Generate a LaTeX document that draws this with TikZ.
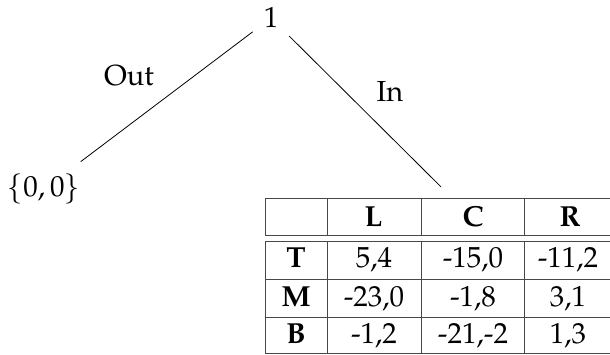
\documentclass[tikz,border=0pt]{standalone}
\usepackage[T1]{fontenc}
\usepackage{mathpazo}
\usetikzlibrary{calc}
\begin{document}
\begin{tikzpicture}[x=1pt,y=-1pt,
  every node/.style={inner sep=0pt,font=\fontsize{29}{34}\selectfont},
  lbl/.style={anchor=base},
  cell/.style={anchor=base},
  head/.style={anchor=base,font=\fontsize{29}{34}\selectfont\bfseries},
  branch/.style={line width=0.8pt,black},
  rule/.style={line width=1pt,black!72}]
\useasboundingbox (0,0) rectangle (610,355);

% tree nodes
\node[lbl] (root) at (271,28) {1};
\node[lbl] (out)  at (44,197) {$\{0,0\}$};
\node[inner sep=0pt,minimum width=376pt,minimum height=155pt] (tab) at (453,276.5) {};

% branches
\draw[branch] ($(root)!23pt!(out)$) -- ($(out)!46pt!(root)$);
\draw[branch] ($(root)!25.5pt!(tab.north)$) -- ($(tab.north)!17pt!(root)$);
\node[lbl] (lout) at (129,86) {Out};
\node[lbl] (lin)  at (390,102) {In};

% table rules: header block
\draw[rule] (265,199) -- (641,199);
\draw[rule] (265,236) -- (641,236);
\foreach \x in {265,327,421,524} \draw[rule] (\x,199) -- (\x,236);
% table rules: body block
\draw[rule] (265,241.5) -- (641,241.5);
\draw[rule] (265,279) -- (641,279);
\draw[rule] (265,317) -- (641,317);
\draw[rule] (265,353.5) -- (641,353.5);
\foreach \x in {265,327,421,524} \draw[rule] (\x,241.5) -- (\x,353.5);

% header row
\node[head] (hL) at (373.5,227) {L};
\node[head] (hC) at (473,227) {C};
\node[head] (hR) at (570,227) {R};
% body rows
\node[head] (rT) at (296,268) {T};
\node[cell] (tl) at (374,268) {5,4};
\node[cell] (tc) at (473,268) {-15,0};
\node[cell] (tr) at (568,268) {-11,2};
\node[head] (rM) at (296,306) {M};
\node[cell] (ml) at (374,306) {-23,0};
\node[cell] (mc) at (473,306) {-1,8};
\node[cell] (mr) at (568,306) {3,1};
\node[head] (rB) at (296,343) {B};
\node[cell] (bl) at (374,343) {-1,2};
\node[cell] (bc) at (473,343) {-21,-2};
\node[cell] (br) at (568,343) {1,3};
\end{tikzpicture}
\end{document}
